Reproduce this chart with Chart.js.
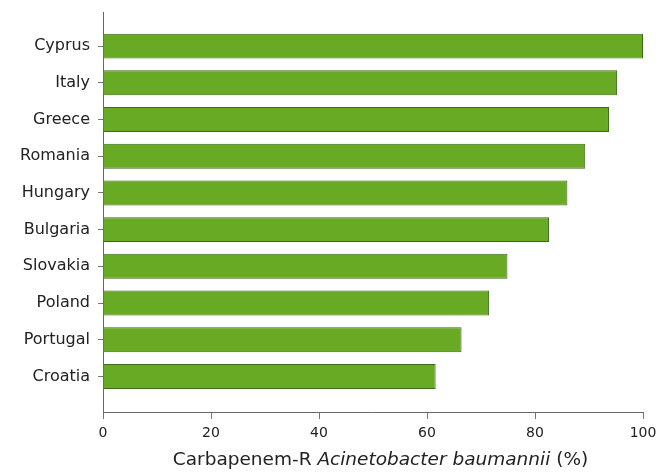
<!DOCTYPE html>
<html>
<head>
<meta charset="utf-8">
<script src="https://cdn.jsdelivr.net/npm/chart.js@4/dist/chart.umd.min.js"></script>
<style>
  html, body { margin: 0; padding: 0; background: #fff; }
  #wrap { position: relative; width: 659px; height: 472px; }
  #xtitle {
    position: absolute; left: 0; width: 659px; top: 448px;
    text-align: center; font: 18.5px "DejaVu Sans", sans-serif; color: #222;
    padding-left: 102px; box-sizing: border-box; white-space: nowrap;
  }
</style>
</head>
<body>
<div id="wrap">
  <canvas id="chart" width="659" height="472"></canvas>
  <div id="xtitle">Carbapenem-R <i>Acinetobacter baumannii</i> (%)</div>
</div>
<script>
const countries = ["Cyprus", "Italy", "Greece", "Romania", "Hungary", "Bulgaria", "Slovakia", "Poland", "Portugal", "Croatia"];
const resistance = [100, 95.2, 93.7, 89.3, 86.0, 82.6, 74.9, 71.5, 66.4, 61.6];
const xTicks = [0, 20, 40, 60, 80, 100];

window.onload = main;

function main() {
  const points = resistance.map((v, i) => ({ x: v, y: i }));

  const ctx = document.getElementById("chart").getContext("2d");
  new Chart(ctx, {
    type: "bar",
    data: {
      datasets: [
        {
          data: points,
          backgroundColor: "#69aa25",
          borderColor: "#3d6a17",
          borderWidth: 1,
          barPercentage: 0.68,
          categoryPercentage: 1,
        },
      ],
    },
    options: {
      indexAxis: "y",
      responsive: false,
      animation: false,
      layout: { padding: { top: 12, right: 16 } },
      plugins: { legend: { display: false }, tooltip: { enabled: false } },
      scales: {
        x: {
          type: "linear",
          min: 0,
          max: 100,
          afterBuildTicks: (scale) => { scale.ticks = xTicks.map((v) => ({ value: v })); },
          afterFit: (scale) => {
            scale.height = 60;
            scale.paddingLeft = 0;
            scale.paddingRight = 0;
          },
          grid: { drawOnChartArea: false, drawTicks: true, tickLength: 7, color: "#777" },
          border: { color: "#666" },
          ticks: { font: { family: "DejaVu Sans", size: 14 }, color: "#222", padding: 6, maxRotation: 0 },
        },
        y: {
          type: "linear",
          reverse: true,
          offset: false,
          min: -0.93,
          max: 9.97,
          afterBuildTicks: (scale) => { scale.ticks = countries.map((c, i) => ({ value: i })); },
          afterFit: (scale) => {
            scale.width = 103;
            scale.paddingTop = 0;
            scale.paddingBottom = 0;
          },
          grid: { offset: false, drawOnChartArea: false, drawTicks: true, tickLength: 5, color: "#777" },
          border: { color: "#666" },
          ticks: {
            font: { family: "DejaVu Sans", size: 16 },
            color: "#222",
            padding: 8,
            callback: (v) => countries[v],
          },
        },
      },
    },
  });
}
</script>
</body>
</html>
